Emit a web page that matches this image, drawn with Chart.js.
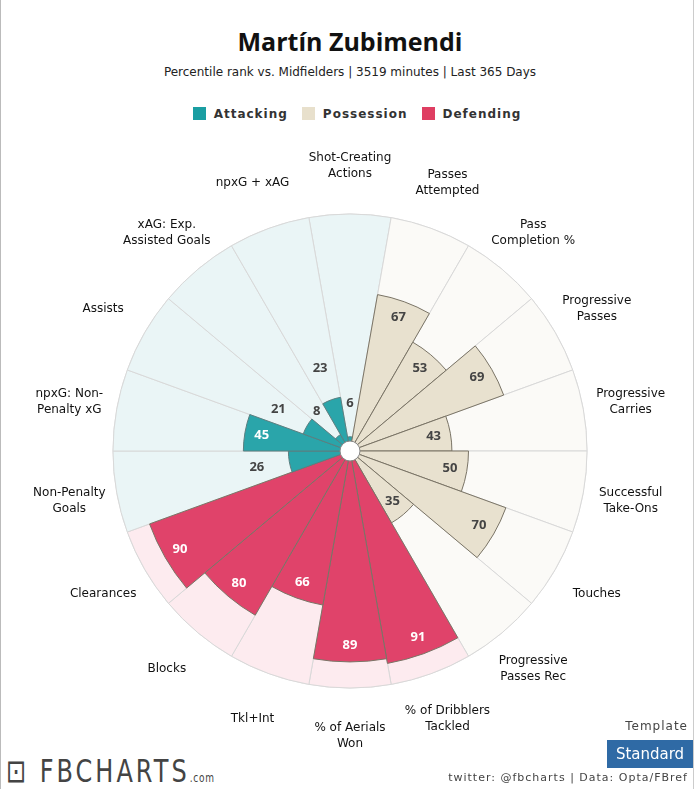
<!DOCTYPE html>
<html><head><meta charset="utf-8">
<script src="https://cdn.jsdelivr.net/npm/chart.js@4.4.0/dist/chart.umd.min.js"></script>
<style>
body{margin:0;background:#fff;font-family:"Open Sans",sans-serif;width:699px;height:790px;position:relative;overflow:hidden}
#frame{position:absolute;left:0;top:0;width:692px;height:789px;border-left:1px solid #bbb;border-right:1px solid #ccc}
h1{position:absolute;top:24px;left:0;width:700px;text-align:center;margin:0;font:bold 25px "Open Sans",sans-serif;color:#111}
#sub{position:absolute;top:65px;width:700px;text-align:center;font:12px "DejaVu Sans",sans-serif;color:#222}
#leg{position:absolute;top:107px;width:700px;text-align:center;font:bold 12px "DejaVu Sans",sans-serif;color:#333;letter-spacing:1px}
#leg span{display:inline-block;width:13px;height:13px;vertical-align:-2px;margin:0 8px 0 14px}
#wrap{position:absolute;left:0;top:151px;width:700px;height:600px}
#tmpl{position:absolute;right:11px;top:719px;font:12px "DejaVu Sans",sans-serif;color:#444;letter-spacing:1px}
#std{position:absolute;left:607px;top:740px;width:86px;height:28px;background:#2f6aa5;color:#fff;font:15px "DejaVu Sans",sans-serif;line-height:28px;text-align:center}
#foot{position:absolute;right:11px;top:771px;font:11px "DejaVu Sans",sans-serif;color:#444;letter-spacing:1px}
#logo{position:absolute;left:6px;top:752px;font:32px "DejaVu Sans",sans-serif;color:#444;letter-spacing:4px;transform:scaleX(0.75);transform-origin:left}
#logo small{font-size:12px;letter-spacing:1px}
</style></head><body>
<div id="frame"></div>
<h1>Martín Zubimendi</h1>
<div id="sub">Percentile rank vs. Midfielders | 3519 minutes | Last 365 Days</div>
<div id="leg"><span style="background:#1a9ea2"></span>Attacking<span style="background:#e8e0cc"></span>Possession<span style="background:#df3e62"></span>Defending</div>
<div id="wrap"><canvas id="c"></canvas></div>
<div id="logo">⊡ FBCHARTS<small>.com</small></div>
<div id="tmpl">Template</div>
<div id="std">Standard</div>
<div id="foot">twitter: @fbcharts | Data: Opta/FBref</div>
<script>
const categories=[["Shot-Creating","Actions"],["Passes","Attempted"],["Pass","Completion %"],["Progressive","Passes"],["Progressive","Carries"],["Successful","Take-Ons"],["Touches"],["Progressive","Passes Rec"],["% of Dribblers","Tackled"],["% of Aerials","Won"],["Tkl+Int"],["Blocks"],["Clearances"],["Non-Penalty","Goals"],["npxG: Non-","Penalty xG"],["Assists"],["xAG: Exp.","Assisted Goals"],["npxG + xAG"]];
const values=[6,67,53,69,43,50,70,35,91,89,66,80,90,26,45,21,8,23];
const groups=["A","P","P","P","P","P","P","P","D","D","D","D","D","A","A","A","A","A"];
const full=categories.map(()=>100);
const col={A:"#2aa5aa",P:"#e8e1cf",D:"#e0436a"};
const bg={A:"#eaf5f6",P:"#fbfaf7",D:"#fdebef"};
const txt={A:"#fff",P:"#444",D:"#fff"};
const plug={id:"p",
 beforeDatasetsDraw(ch){},
 afterDatasetsDraw(ch){
  const s=ch.scales.r,ctx=ch.ctx,cx=s.xCenter,cy=s.yCenter;
  ctx.save();
  ctx.beginPath();ctx.arc(cx,cy,10,0,Math.PI*2);ctx.fillStyle="#fff";ctx.fill();ctx.strokeStyle="#888";ctx.lineWidth=1;ctx.stroke();
  ctx.textAlign="center";ctx.textBaseline="middle";
  values.forEach((v,i)=>{
   const a=(i*20-90)*Math.PI/180;
   const ro=s.getDistanceFromCenterForValue(v);
   let r,c;
   if(v<30){r=ro+33;c="#444";}else{r=ro-17;c=txt[groups[i]];}
   ctx.font="bold 13px 'Open Sans',sans-serif";ctx.fillStyle=c;
   ctx.fillText(String(v),cx+r*Math.cos(a),cy+r*Math.sin(a));
   const lr=s.drawingArea+48;
   ctx.font="12px 'DejaVu Sans',sans-serif";ctx.fillStyle="#111";
   const L=categories[i],lx=cx+lr*Math.cos(a),ly=cy+lr*Math.sin(a);
   L.forEach((t,k)=>ctx.fillText(t,lx,ly+(k-(L.length-1)/2)*16));
  });
  ctx.restore();
 }};
new Chart(document.getElementById("c"),{type:"polarArea",
 data:{labels:categories,datasets:[
  {data:values,backgroundColor:groups.map(g=>col[g]),borderColor:groups.map(g=>g==="A"?"#5a7f80":"#7a7466"),borderWidth:1},
  {data:full,backgroundColor:groups.map(g=>bg[g]),borderColor:"#d8d8d8",borderWidth:1}
 ]},
 options:{responsive:true,maintainAspectRatio:false,animation:false,
  layout:{padding:{top:63,bottom:63,left:0,right:0}},
  plugins:{legend:{display:false},tooltip:{enabled:false}},
  scales:{r:{min:0,max:100,startAngle:-10,ticks:{display:false,stepSize:25},
   grid:{color:(c)=>c.tick.value===100?"#ddd":"#ccc",borderDash:[6,6]},
   angleLines:{display:false},pointLabels:{display:false}}}},
 plugins:[plug]});
</script>
</body></html>
